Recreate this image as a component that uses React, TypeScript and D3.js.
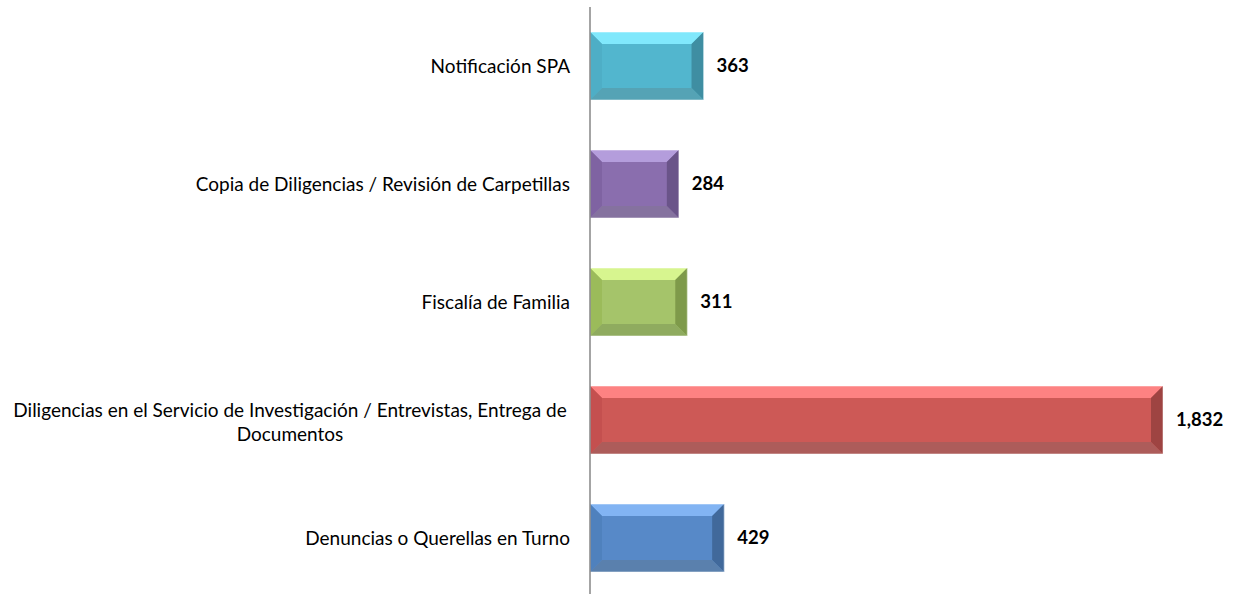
import React from "react";
import * as d3 from "d3";

const categories = [
  "Notificación SPA",
  "Copia de Diligencias / Revisión de Carpetillas",
  "Fiscalía de Familia",
  "Diligencias en el Servicio de Investigación / Entrevistas, Entrega de|Documentos",
  "Denuncias o Querellas en Turno",
];
const values = [363, 284, 311, 1832, 429];
// per bar: [face, top, left, right, bottom]
const palettes = [
  ["#52b6ce", "#80e8fc", "#4eaec6", "#3f8ea2", "#55a3b5"],
  ["#8a6eae", "#b49ddc", "#7f63a2", "#6a5489", "#85729f"],
  ["#a5c46a", "#d7f58f", "#9bbb5a", "#7e9a4a", "#8fab5f"],
  ["#cd5956", "#fd8282", "#c4504f", "#9e4442", "#ad5c5a"],
  ["#5789c8", "#82b4f3", "#4f81bd", "#41699b", "#5a80ad"],
];

const W = 1233;
const H = 594;
const x0 = 590;

export default function App() {
  const x = d3.scaleLinear().domain([0, 1832]).range([x0, 1163]);
  const y = d3
    .scaleBand<string>()
    .domain(categories)
    .range([7, 597])
    .paddingInner(50 / 118)
    .paddingOuter(25 / 118);
  const fmt = d3.format(",");
  const bev = 12;
  return (
    <svg
      width={W}
      height={H}
      style={{ position: "absolute", left: 0, top: 0, fontFamily: "Lato, 'Open Sans', sans-serif" }}
    >
      {categories.map((c, i) => {
        const top = y(c)!;
        const h = y.bandwidth();
        const left = x(0);
        const right = x(values[i]);
        const b = Math.min(bev, (right - left) / 2);
        const [face, tp, lf, rt, bt] = palettes[i];
        const lines = c.split("|");
        const cy = top + h / 2;
        const pts = (arr: number[][]) => arr.map((p) => p.join(",")).join(" ");
        return (
          <g key={c}>
            <rect x={left} y={top} width={right - left} height={h} fill={face} />
            <polygon points={pts([[left, top], [right, top], [right - b, top + b], [left + b, top + b]])} fill={tp} />
            <polygon points={pts([[left, top], [left + b, top + b], [left + b, top + h - b], [left, top + h]])} fill={lf} />
            <polygon points={pts([[right, top], [right, top + h], [right - b, top + h - b], [right - b, top + b]])} fill={rt} />
            <polygon points={pts([[left, top + h], [left + b, top + h - b], [right - b, top + h - b], [right, top + h]])} fill={bt} />
            <rect x={left} y={top} width={right - left} height={h} fill="none" stroke="#ffffff" strokeOpacity={0.5} strokeWidth={1} />
            <text
              x={right + 13}
              y={cy}
              dy="0.35em"
              fontSize={18.5}
              fontWeight="bold"
              fill="#000"
            >
              {fmt(values[i])}
            </text>
            {lines.length === 1 ? (
              <text x={570} y={cy} dy="0.38em" textAnchor="end" fontSize={19} fill="#000">
                {lines[0]}
              </text>
            ) : (
              <text textAnchor="middle" fontSize={19} fill="#000">
                {lines.map((l, k) => (
                  <tspan key={k} x={290} y={cy - 10 + k * 24} dy="0.35em">
                    {l}
                  </tspan>
                ))}
              </text>
            )}
          </g>
        );
      })}
      <line x1={x0} x2={x0} y1={7} y2={H} stroke="#868686" strokeWidth={1.5} />
    </svg>
  );
}
